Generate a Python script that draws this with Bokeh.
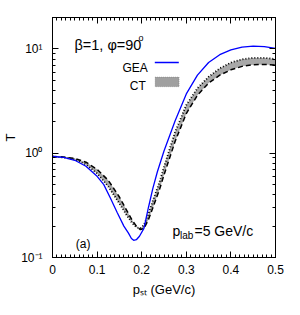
import numpy as np
from bokeh.plotting import figure
from bokeh.models import Label, BoxAnnotation, FixedTicker, LinearAxis, LogAxis, Range1d, CustomJSTickFormatter
from bokeh.embed import file_html
from bokeh.resources import INLINE

# ---------------- data ----------------
gea_p = [0, .025, .05, .075, .1, .115, .13, .145, .16, .17, .177, .182, .188, .195, .205,
         .215, .225, .235, .25, .275, .3, .325, .35, .375, .4, .425, .45, .475, .5]
gea_T = [0.93, 0.91, 0.855, 0.75, 0.60, 0.50, 0.37, 0.27, 0.20, 0.172, 0.152, 0.146, 0.148, 0.160, 0.19,
         0.30, 0.46, 0.66, 1.05, 2.05, 3.7, 5.6, 7.4, 8.8, 9.8, 10.4, 10.65, 10.5, 10.1]

ct_p = [0, .025, .05, .075, .1, .125, .15, .165, .178, .188, .197, .205, .215, .225, .24,
        .25, .275, .3, .325, .35, .375, .4, .425, .45, .475, .5]
ct_dashed = [0.93, 0.92, 0.89, 0.82, 0.70, 0.55, 0.38, 0.29, 0.23, 0.20, 0.185, 0.19, 0.23, 0.30, 0.45,
             0.62, 1.3, 2.4, 3.6, 4.7, 5.6, 6.3, 6.8, 7.05, 7.1, 7.0]
ct_dotted = [0.93, 0.91, 0.87, 0.78, 0.64, 0.48, 0.33, 0.26, 0.215, 0.195, 0.19, 0.205, 0.26, 0.35, 0.53,
             0.74, 1.6, 2.9, 4.2, 5.4, 6.5, 7.4, 7.95, 8.2, 8.2, 8.0]

x_ticks = [0, 0.1, 0.2, 0.3, 0.4, 0.5]
x_tick_labels = ["0", "0.1", "0.2", "0.3", "0.4", "0.5"]
y_ticks = [0.1, 1, 10]
y_tick_labels = ["10\u207b\u00b9", "10\u2070", "10\u00b9"]

FONT = "Liberation Sans"

p = figure(frame_width=223, frame_height=240, x_range=Range1d(0, 0.5), y_range=Range1d(0.1, 20),
           y_axis_type="log", output_backend="svg", toolbar_location=None,
           min_border_left=52, min_border_right=10, min_border_top=17, min_border_bottom=50)
p.xgrid.visible = False
p.ygrid.visible = False
p.outline_line_color = "black"
p.outline_line_width = 1
p.background_fill_color = "white"
p.border_fill_color = "white"

x_minor = [round(i * 0.01, 2) for i in range(51)]
y_minor = [k * 10.0 ** e for e in (-1, 0, 1) for k in range(2, 10)]

def style_axis(ax):
    ax.major_tick_in = 6
    ax.major_tick_out = 0
    ax.minor_tick_in = 3
    ax.minor_tick_out = 0
    ax.axis_line_color = "black"
    ax.major_tick_line_color = "black"
    ax.minor_tick_line_color = "black"
    ax.major_label_text_font = FONT
    ax.major_label_text_font_size = "12px"
    ax.major_label_text_color = "black"
    ax.axis_label_text_font = FONT
    ax.axis_label_text_font_size = "13px"
    ax.axis_label_text_font_style = "normal"
    ax.axis_label_text_color = "black"

xa = p.xaxis[0]
xa.ticker = FixedTicker(ticks=x_ticks, minor_ticks=x_minor)
xa.major_label_overrides = {t: l for t, l in zip(x_ticks, x_tick_labels)}
xa.major_label_standoff = 7
style_axis(xa)
xa.axis_label = "p\u209b\u209c (GeV/c)"
xa.axis_label_standoff = 5

ya = p.yaxis[0]
ya.ticker = FixedTicker(ticks=y_ticks, minor_ticks=y_minor)
ya.major_label_overrides = {t: l for t, l in zip(y_ticks, y_tick_labels)}
ya.major_label_standoff = 10
style_axis(ya)
ya.axis_label = "T"
ya.axis_label_standoff = 0

blank = CustomJSTickFormatter(code="return ''")
top = LinearAxis(ticker=FixedTicker(ticks=x_ticks, minor_ticks=x_minor), formatter=blank)
style_axis(top)
top.major_label_text_font_size = "1px"
top.major_label_standoff = 0
p.add_layout(top, "above")
right = LogAxis(ticker=FixedTicker(ticks=y_ticks, minor_ticks=y_minor), formatter=blank)
style_axis(right)
right.major_label_text_font_size = "1px"
right.major_label_standoff = 0
p.add_layout(right, "right")

# ---------------- glyphs ----------------
p.varea(x=ct_p, y1=ct_dashed, y2=ct_dotted, fill_color="#a8a8a8", fill_alpha=1.0)
p.line(ct_p, ct_dotted, line_color="black", line_width=1.8, line_dash="1 2")
p.line(ct_p, ct_dashed, line_color="black", line_width=1.5, line_dash="5 3")
p.line(gea_p, gea_T, line_color="#0000ff", line_width=1.3)

# ---------------- texts (screen units relative to frame) ----------------
def lab(text, x, y, size, **kw):
    p.add_layout(Label(x=x, y=y, x_units="screen", y_units="screen", text=text,
                       text_font=FONT, text_font_size=size, text_color="black", **kw))

lab("\u03b2=1, \u03c6=90", 22, 213, "14.5px", text_baseline="alphabetic")
lab("o", 86, 220, "9px", text_baseline="alphabetic")
lab("GEA", 95.3, 190, "12px", text_align="right", text_baseline="alphabetic")
lab("CT", 93.3, 171.5, "12px", text_align="right", text_baseline="alphabetic")
lab("(a)", 23.3, 13.5, "12px", text_baseline="alphabetic")
lab("p", 120, 26.5, "14px", text_baseline="alphabetic")
lab("lab", 127.5, 22.5, "10px", text_baseline="alphabetic")
lab("=5 GeV/c", 142, 26.5, "14px", text_baseline="alphabetic")

# legend keys
p.add_layout(BoxAnnotation(left=102.3, right=126.3, bottom=194.3, top=195.7,
                           left_units="screen", right_units="screen", bottom_units="screen", top_units="screen",
                           fill_color="#0000ff", fill_alpha=1, line_color=None))
p.add_layout(BoxAnnotation(left=102.6, right=126.6, bottom=170.8, top=180.5,
                           left_units="screen", right_units="screen", bottom_units="screen", top_units="screen",
                           fill_color="#a0a0a0", fill_alpha=1, line_color="#555555", line_dash="1 1", line_width=1))

open("out.html", "w").write(file_html(p, INLINE))
